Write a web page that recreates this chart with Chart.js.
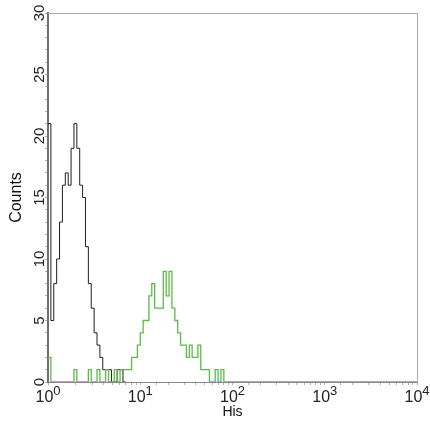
<!DOCTYPE html>
<html>
<head>
<meta charset="utf-8">
<script src="https://cdn.jsdelivr.net/npm/chart.js@4.4.1/dist/chart.umd.min.js"></script>
<style>
    html, body { margin: 0; padding: 0; background: #fff; }
    #wrap { width: 430px; height: 422px; }
</style>
</head>
<body>
<div id="wrap"><canvas id="histChart" width="430" height="422"></canvas></div>
<script>
// Histogram channels: 32 per decade, 4 decades (10^0 .. 10^4)
const channelsPerDecade = 32;

// Tick labels
const xTickValues = [1, 10, 100, 1000, 10000];
const xTickExponents = ['0', '1', '2', '3', '4'];
const yTickValues = [0, 5, 10, 15, 20, 25, 30];

// Counts per channel, starting at channel 0 (value 10^0)
const blackCounts = [21, 5, 8, 10, 13, 16, 17, 16, 19, 21, 19, 16, 15, 11, 8, 6, 4, 3, 2, 1, 1, 1, 0, 0, 1, 1, 0];
const greenCounts = [2, 0, 0, 0, 0, 0, 0, 0, 0, 1, 0, 0, 0, 0, 1, 0, 0, 1, 0, 0,
                     1, 0, 0, 1, 0, 1, 1, 1, 1, 2, 2, 3, 4, 5, 5, 7, 8, 6, 6, 6,
                     9, 7, 9, 6, 5, 4, 3, 3, 2, 3, 2, 2, 3, 1, 1, 1, 0, 0, 1, 0,
                     1, 0];

const FONT = "'Liberation Sans', Arial, Helvetica, sans-serif";

// channel index -> fluorescence value on the log axis
function toPoints(counts, endValue) {
    const pts = counts.map((c, i) => ({ x: Math.pow(10, i / channelsPerDecade), y: c }));
    pts.push({ x: endValue, y: 0 });
    return pts;
}

// Frame, rotated y labels, 10^n x labels and axis titles
const labelPlugin = {
    id: 'axisLabels',
    afterDraw(chart) {
        const { ctx, chartArea, scales } = chart;
        const x = scales.x, y = scales.y;
        ctx.save();

        // top + right frame
        ctx.strokeStyle = '#a8a8a8';
        ctx.lineWidth = 1;
        ctx.beginPath();
        ctx.moveTo(chartArea.left, chartArea.top + 0.5);
        ctx.lineTo(chartArea.right + 0.5, chartArea.top + 0.5);
        ctx.lineTo(chartArea.right + 0.5, chartArea.bottom);
        ctx.stroke();

        ctx.fillStyle = '#222';

        // x tick labels: 10 with superscript exponent
        xTickValues.forEach((v, i) => {
            const px = x.getPixelForValue(v);
            ctx.font = '16px ' + FONT;
            const wb = ctx.measureText('10').width;
            ctx.font = '13px ' + FONT;
            const we = ctx.measureText(xTickExponents[i]).width;
            const start = px - (wb + we) / 2;
            ctx.textAlign = 'left';
            ctx.textBaseline = 'alphabetic';
            ctx.font = '16px ' + FONT;
            ctx.fillText('10', start, 402);
            ctx.font = '13px ' + FONT;
            ctx.fillText(xTickExponents[i], start + wb, 395);
        });

        // y tick labels, rotated
        ctx.font = '15px ' + FONT;
        ctx.textAlign = 'center';
        yTickValues.forEach(v => {
            const py = y.getPixelForValue(v);
            ctx.save();
            ctx.translate(44, py);
            ctx.rotate(-Math.PI / 2);
            ctx.fillText(String(v), 0, 0);
            ctx.restore();
        });

        // axis titles
        ctx.save();
        ctx.font = '16px ' + FONT;
        ctx.fillStyle = '#111';
        ctx.translate(21, (chartArea.top + chartArea.bottom) / 2);
        ctx.rotate(-Math.PI / 2);
        ctx.fillText('Counts', 0, 0);
        ctx.restore();

        ctx.font = '14px ' + FONT;
        ctx.fillStyle = '#111';
        ctx.fillText('His', (chartArea.left + chartArea.right) / 2, 415.5);

        ctx.restore();
    }
};

const ctx = document.getElementById('histChart').getContext('2d');

new Chart(ctx, {
    type: 'line',
    data: {
        datasets: [
            {
                label: 'His',
                data: toPoints(greenCounts, 10000),
                borderColor: '#5dbb4a',
                borderWidth: 1.3,
                stepped: true,
                pointRadius: 0,
                fill: false,
                order: 0
            },
            {
                label: 'Control',
                data: toPoints(blackCounts, Math.pow(10, blackCounts.length / channelsPerDecade)),
                borderColor: '#1e1e1e',
                borderWidth: 1,
                stepped: true,
                pointRadius: 0,
                fill: false,
                order: 1
            }
        ]
    },
    options: {
        responsive: false,
        animation: false,
        devicePixelRatio: 1,
        layout: {
            padding: { top: 13, right: 13, left: 0, bottom: 0 }
        },
        plugins: {
            legend: { display: false },
            tooltip: { enabled: false }
        },
        scales: {
            x: {
                type: 'logarithmic',
                min: 1,
                max: 10000,
                afterFit: (s) => { s.height = 40; },
                ticks: { display: false },
                grid: {
                    drawOnChartArea: false,
                    tickLength: 3,
                    color: '#b0b0b0'
                },
                border: { color: '#888', width: 1 }
            },
            y: {
                min: 0,
                max: 30,
                afterFit: (s) => { s.width = 48; },
                ticks: { display: false, stepSize: 1 },
                grid: {
                    drawOnChartArea: false,
                    tickLength: 3,
                    color: '#b0b0b0'
                },
                border: { color: '#707070', width: 2 }
            }
        }
    },
    plugins: [labelPlugin]
});
</script>
</body>
</html>
